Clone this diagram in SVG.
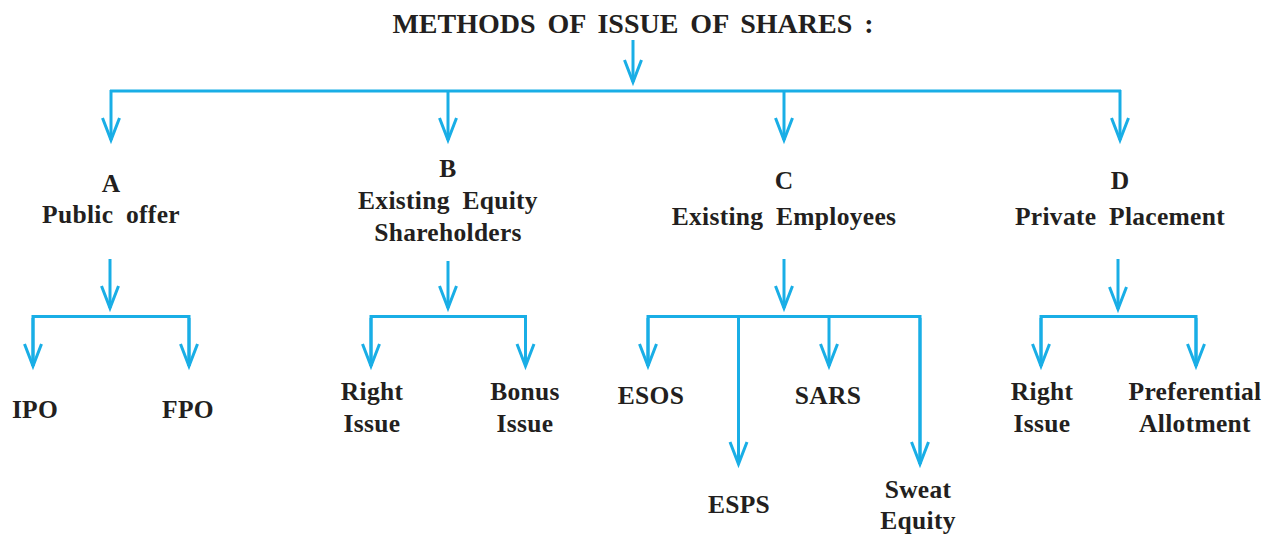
<svg xmlns="http://www.w3.org/2000/svg" width="1273" height="535" viewBox="0 0 1273 535">
<style>
  .t{font-family:"Liberation Serif","Times New Roman","DejaVu Serif",serif;font-weight:bold;fill:#231f20;text-anchor:middle}
  .title{font-size:28px;word-spacing:5px}
  .lbl{font-size:25.5px;letter-spacing:0.3px;word-spacing:6px}
  .c{fill:none;stroke:#19aee6;stroke-width:3}
  .a{marker-end:url(#arr)}
</style>
<defs>
  <marker id="arr" markerUnits="userSpaceOnUse" orient="auto" overflow="visible" markerWidth="1" markerHeight="1" refX="0" refY="0">
    <path d="M-22,-8.5 L0,0 L-22,8.5" fill="none" stroke="#19aee6" stroke-width="3" stroke-linejoin="miter"/>
  </marker>
</defs>
<rect width="1273" height="535" fill="#ffffff"/>
<g id="title"><text class="t title" x="633" y="33">METHODS OF ISSUE OF SHARES :</text></g>
<g id="connectors">
  <path class="c a" d="M633,40 V82"/>
  <path class="c" d="M110,91 H1121"/>
  <path class="c a" d="M111,90 V140"/>
  <path class="c a" d="M448,90 V140"/>
  <path class="c a" d="M784,90 V140"/>
  <path class="c a" d="M1120,90 V140"/>
  <path class="c a" d="M110,259 V308"/>
  <path class="c" d="M33,366 V316.5 H189 V366"/>
  <path class="c a" d="M33,318 V366"/>
  <path class="c a" d="M189,318 V366"/>
  <path class="c a" d="M448,261 V308"/>
  <path class="c" d="M371,366 V316.5 H525.5 V366"/>
  <path class="c a" d="M371,318 V366"/>
  <path class="c a" d="M525.5,318 V366"/>
  <path class="c a" d="M784,259 V308"/>
  <path class="c" d="M648,366 V316.5 H920 V464"/>
  <path class="c a" d="M648,318 V366"/>
  <path class="c a" d="M738.5,316.5 V464"/>
  <path class="c a" d="M829,316.5 V366"/>
  <path class="c a" d="M920,318 V464"/>
  <path class="c a" d="M1118,259 V309"/>
  <path class="c" d="M1041,366 V316.5 H1196 V366"/>
  <path class="c a" d="M1041,318 V366"/>
  <path class="c a" d="M1196,318 V366"/>
</g>
<g id="nodeA"><text class="t lbl" x="111" y="192">A</text><text class="t lbl" x="111" y="223">Public offer</text></g>
<g id="nodeB"><text class="t lbl" x="448" y="177">B</text><text class="t lbl" x="448" y="209">Existing Equity</text><text class="t lbl" x="448" y="241">Shareholders</text></g>
<g id="nodeC"><text class="t lbl" x="784" y="189">C</text><text class="t lbl" x="784" y="225">Existing Employees</text></g>
<g id="nodeD"><text class="t lbl" x="1120" y="189">D</text><text class="t lbl" x="1120" y="225">Private Placement</text></g>
<g id="ipo"><text class="t lbl" x="35" y="418">IPO</text></g>
<g id="fpo"><text class="t lbl" x="188" y="418">FPO</text></g>
<g id="rightB"><text class="t lbl" x="372" y="400">Right</text><text class="t lbl" x="372" y="432">Issue</text></g>
<g id="bonus"><text class="t lbl" x="525" y="400">Bonus</text><text class="t lbl" x="525" y="432">Issue</text></g>
<g id="esos"><text class="t lbl" x="651" y="404">ESOS</text></g>
<g id="sars"><text class="t lbl" x="828" y="404">SARS</text></g>
<g id="esps"><text class="t lbl" x="739" y="513">ESPS</text></g>
<g id="sweat"><text class="t lbl" x="918" y="498">Sweat</text><text class="t lbl" x="918" y="529">Equity</text></g>
<g id="rightD"><text class="t lbl" x="1042" y="400">Right</text><text class="t lbl" x="1042" y="432">Issue</text></g>
<g id="pref"><text class="t lbl" x="1195" y="400">Preferential</text><text class="t lbl" x="1195" y="432">Allotment</text></g>
</svg>
